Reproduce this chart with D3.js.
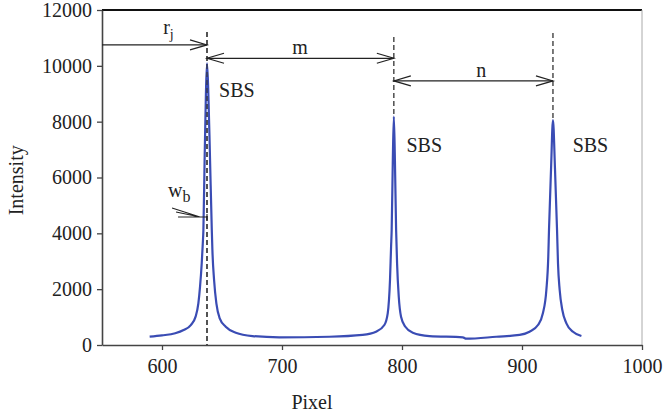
<!DOCTYPE html>
<html>
<head>
<meta charset="utf-8">
<script src="https://cdn.jsdelivr.net/npm/d3@7/dist/d3.min.js"></script>
<style>
  body { margin: 0; background: #fff; }
  text { font-family: "Liberation Serif", "Times New Roman", serif; fill: #222; }
</style>
</head>
<body>
<div id="chart-area"></div>
<script>
// spectrum
const pixels = [589.7, 600, 611, 618, 624, 628, 630.3, 631.7, 633.1, 634, 634.5, 635.5, 636.6, 637.5, 638.5, 640, 641.5, 642, 643.4, 645.3, 648.1, 653.1, 661.5, 675.4, 697.7, 739.4, 767.2, 778.4, 785.3, 788.1, 790, 790.9, 791.4, 792.3, 793.2, 794.1, 795.1, 795.9, 797.3, 799.2, 802.8, 809, 822.9, 850.7, 853.5, 878.5, 898, 906.3, 913.3, 917.4, 920.3, 921.9, 922.5, 924.2, 925.8, 927.5, 929.2, 930, 931.4, 933.6, 937, 942.5, 949.5]
const intensity = [300, 345, 420, 535, 715, 1015, 1490, 2090, 2925, 3640, 4120, 6600, 9000, 10090, 9200, 6700, 4120, 3400, 2330, 1490, 955, 655, 440, 320, 275, 295, 360, 475, 715, 1135, 2330, 3520, 4120, 6500, 8180, 6600, 4120, 2925, 1730, 1015, 655, 440, 320, 275, 225, 295, 360, 475, 715, 1135, 1970, 3165, 4120, 6300, 8060, 6300, 4120, 2925, 1970, 1255, 775, 475, 320]

const xTicks = [600, 700, 800, 900, 1000]
const yTicks = [0, 2000, 4000, 6000, 8000, 10000, 12000]

// peak markers (dashed lines) and SBS labels
const peakPixels = [637.5, 793.2, 925.8]
const peakLineTop = [11210, 11030, 11175]
const peakLineBottom = [0, 8180, 8060]
const sbsLabels = ['SBS', 'SBS', 'SBS']
const sbsPixels = [647.6, 803.7, 942.2]
const sbsIntensity = [8880, 6910, 6910]

// spacing arrows r_j, m, n
const arrowFrom = [550, 637.5, 793.2]
const arrowTo = [637.5, 793.2, 925.8]
const arrowLevel = [10750, 10270, 9460]
const arrowBoth = [false, true, true]
const arrowNames = ['r', 'm', 'n']
const arrowSubs = ['j', '', '']
const arrowNamePixel = [601, 715, 866]
const arrowNameLevel = [11140, 10420, 9600]

const margin = {top: 10, right: 24, bottom: 69, left: 102},
      width = 666 - margin.left - margin.right,
      height = 414 - margin.top - margin.bottom;

const svg = d3.select('#chart-area').append('svg')
  .attr('width', width + margin.left + margin.right)
  .attr('height', height + margin.top + margin.bottom)

const g = svg.append('g')
  .attr('transform', `translate(${margin.left}, ${margin.top})`)

const x = d3.scaleLinear().domain([550, 1000]).range([0, width])
const y = d3.scaleLinear().domain([0, 12000]).range([height, 0])

// frame: black top, light right
g.append('line').attr('x1', 0).attr('x2', width).attr('y1', 0).attr('y2', 0)
  .attr('stroke', '#111').attr('stroke-width', 2)
g.append('line').attr('x1', width).attr('x2', width).attr('y1', 0).attr('y2', height)
  .attr('stroke', '#aaa').attr('stroke-width', 1)

g.append('g')
  .attr('transform', `translate(0, ${height})`)
  .call(d3.axisBottom(x).tickValues(xTicks).tickFormat(d3.format('d')).tickSize(5).tickSizeOuter(0).tickPadding(9))
g.append('g')
  .call(d3.axisLeft(y).tickValues(yTicks).tickFormat(d3.format('d')).tickSize(5).tickSizeOuter(0).tickPadding(5))

g.selectAll('.domain').attr('stroke', '#444').attr('stroke-width', 1.6)
g.selectAll('.tick line').attr('stroke', '#444').attr('stroke-width', 1.3)
g.selectAll('.tick text').attr('font-size', 20).attr('font-family', '"Liberation Serif", serif').attr('fill', '#222')

// axis titles
svg.append('text')
  .attr('x', margin.left + x(725)).attr('y', 409)
  .attr('text-anchor', 'middle').attr('font-size', 20)
  .text('Pixel')
svg.append('text')
  .attr('transform', `translate(23, ${margin.top + y(5900)}) rotate(-90)`)
  .attr('text-anchor', 'middle').attr('font-size', 20)
  .text('Intensity')

// dashed peak lines
g.selectAll('.peakline').data(peakPixels).enter().append('line')
  .attr('class', 'peakline')
  .attr('x1', d => x(d)).attr('x2', d => x(d))
  .attr('y1', (d, i) => y(peakLineTop[i])).attr('y2', (d, i) => y(peakLineBottom[i]))
  .attr('stroke', '#333').attr('stroke-width', 1.3).attr('stroke-dasharray', '5,3')

// spectrum
const data = pixels.map((p, i) => ({p: p, v: intensity[i]}))
const line = d3.line().x(d => x(d.p)).y(d => y(d.v)).curve(d3.curveMonotoneX)
g.append('path').datum(data)
  .attr('fill', 'none').attr('stroke', '#3a4cb4').attr('stroke-width', 2.2)
  .attr('d', line)

// redraw dashed line over the first peak (it shows through the curve)
g.append('line')
  .attr('x1', x(peakPixels[0])).attr('x2', x(peakPixels[0]))
  .attr('y1', y(peakLineTop[0])).attr('y2', y(0))
  .attr('stroke', '#333').attr('stroke-width', 1.1).attr('stroke-dasharray', '5,3')

g.selectAll('.sbs').data(sbsLabels).enter().append('text')
  .attr('class', 'sbs')
  .attr('x', (d, i) => x(sbsPixels[i])).attr('y', (d, i) => y(sbsIntensity[i]))
  .attr('font-size', 20)
  .text(d => d)

// arrows
function head(px, py, dir) {
  g.append('path')
    .attr('d', `M${px - dir * 17},${py - 5}L${px},${py}L${px - dir * 17},${py + 5}`)
    .attr('fill', 'none').attr('stroke', '#222').attr('stroke-width', 1.2)
}
arrowFrom.forEach((a, i) => {
  const yy = y(arrowLevel[i])
  g.append('line').attr('x1', x(a)).attr('x2', x(arrowTo[i])).attr('y1', yy).attr('y2', yy)
    .attr('stroke', '#222').attr('stroke-width', 1.3)
  head(x(arrowTo[i]), yy, 1)
  if (arrowBoth[i]) head(x(a), yy, -1)
  const t = g.append('text')
    .attr('x', x(arrowNamePixel[i])).attr('y', y(arrowNameLevel[i]))
    .attr('text-anchor', arrowSubs[i] ? 'start' : 'middle')
    .attr('font-size', 20)
    .text(arrowNames[i])
  if (arrowSubs[i]) t.append('tspan').attr('font-size', 14).attr('dy', 5).text(arrowSubs[i])
})

// w_b marker on the left flank of the first peak
const wbPixel = 631.7, wbLevel = 4585
const wy = y(wbLevel), wx = x(wbPixel)
g.append('path')
  .attr('d', `M${wx - 28},${wy - 9}L${wx},${wy}M${wx - 24},${wy - 5}L${wx},${wy}M${wx - 22},${wy}L${x(peakPixels[0])},${wy}M${x(peakPixels[0])},${wy - 3}L${x(peakPixels[0])},${wy + 3}`)
  .attr('fill', 'none').attr('stroke', '#222').attr('stroke-width', 1.1)
g.append('text')
  .attr('x', wx - 32).attr('y', wy - 20)
  .attr('font-size', 20)
  .text('w')
  .append('tspan').attr('font-size', 16).attr('dy', 5).text('b')
</script>
</body>
</html>
